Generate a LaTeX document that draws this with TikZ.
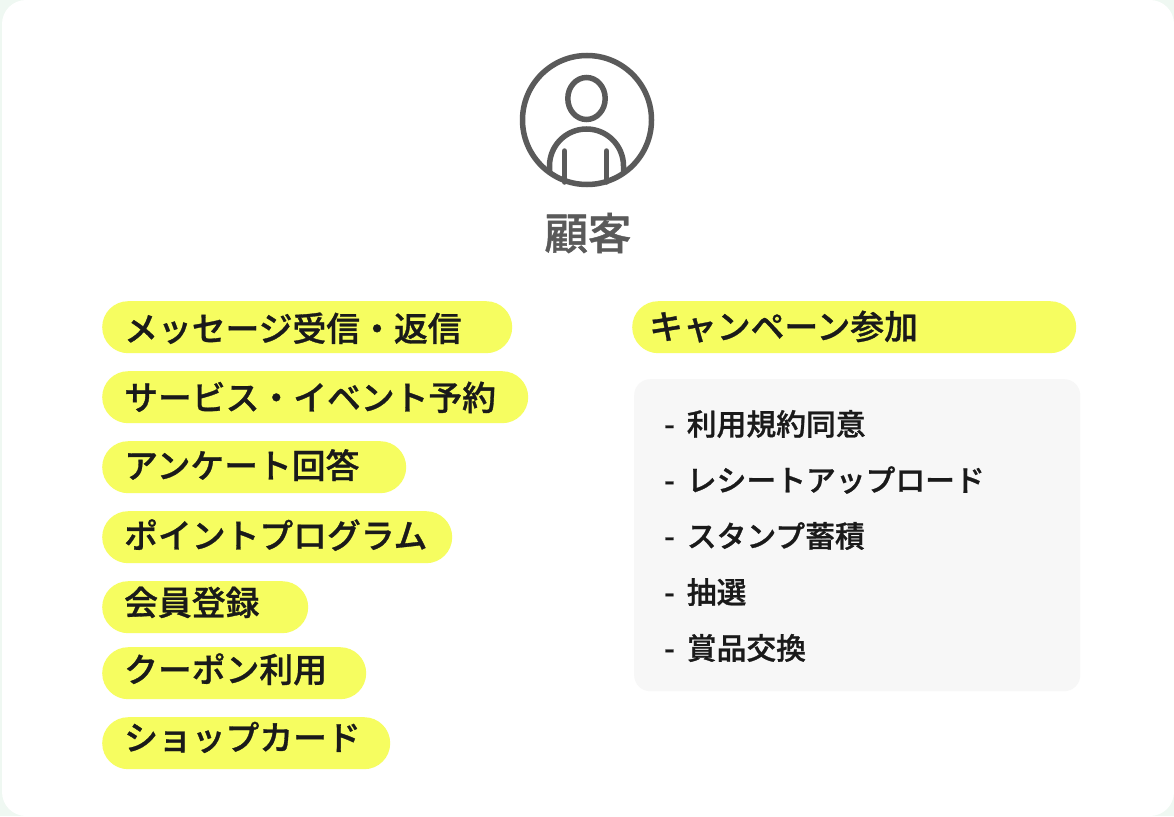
\documentclass[tikz,border=0pt]{standalone}
\usepackage{fontspec}
\setmainfont{Noto Sans CJK JP}
\newfontfamily\medfont[FakeBold=0.9]{Noto Sans CJK JP Medium}
\definecolor{pagebg}{HTML}{EFF8F2}
\definecolor{pillyellow}{HTML}{F6FD60}
\definecolor{panelgray}{HTML}{F7F7F7}
\definecolor{icongray}{HTML}{5A5A5A}
\definecolor{inkdark}{HTML}{1A1A1A}
\tikzset{
  pill/.style={anchor=north west, fill=pillyellow, rounded corners=26pt, minimum height=52pt, inner xsep=0pt, inner ysep=0pt, align=left, text=inkdark, font=\fontsize{33.8}{36}\medfont},
  listitem/.style={anchor=west, inner sep=0pt, text=inkdark, font=\fontsize{29.8}{32}\medfont},
  iconline/.style={draw=icongray, line width=5.5pt, line cap=round},
}
\newcommand{\pilltext}[3]{\hspace*{#1pt}\raisebox{#2pt}[32pt][8pt]{#3}}
\newcommand{\dashitem}[1]{-\hspace{12pt}#1}
\begin{document}
\begin{tikzpicture}[x=1pt,y=-1pt]
\useasboundingbox (0,0) rectangle (1174,816);
\fill[pagebg] (0,0) rectangle (1174,816);
\fill[white, rounded corners=24pt] (2,0) rectangle (1174,816);
% icon
\draw[iconline] (587,120) circle (64.5);
\draw[iconline] (586.5,98.5) ellipse (18.7 and 21);
\draw[iconline] (549.5,172) -- (549.5,166) arc[start angle=180,end angle=360,x radius=37,y radius=37] -- (623.5,172);
\draw[iconline] (564.5,151) -- (564.5,182);
\draw[iconline] (606.5,151) -- (606.5,182);
\node[anchor=center, inner sep=0pt, text=icongray, font=\fontsize{43.5}{46}\medfont] (title) at (588,233) {顧客};
% left pills
\node[pill, text width=410pt] (p1) at (102,301) {\pilltext{22}{-2}{メッセージ受信・返信}};
\node[pill, text width=426pt] (p2) at (102,371) {\pilltext{22}{-1}{サービス・イベント予約}};
\node[pill, text width=304pt] (p3) at (102,441) {\pilltext{22}{1}{アンケート回答}};
\node[pill, text width=350pt] (p4) at (102,511) {\pilltext{22}{1}{ポイントプログラム}};
\node[pill, text width=206pt] (p5) at (102,581) {\pilltext{22}{4}{会員登録}};
\node[pill, text width=264pt] (p6) at (102,647) {\pilltext{22}{3}{クーポン利用}};
\node[pill, text width=288pt] (p7) at (102,717) {\pilltext{22}{5}{ショップカード}};
% right
\node[pill, text width=444pt] (p8) at (632,301) {\pilltext{17}{0}{キャンペーン参加}};
\node[anchor=north west, fill=panelgray, rounded corners=16pt, minimum width=446pt, minimum height=312pt, inner sep=0pt] (panel) at (634,379) {};
\node[listitem] (l1) at (664,424) {\dashitem{利用規約同意}};
\node[listitem] (l2) at (664,480) {\dashitem{レシートアップロード}};
\node[listitem] (l3) at (664,536) {\dashitem{スタンプ蓄積}};
\node[listitem] (l4) at (664,592) {\dashitem{抽選}};
\node[listitem] (l5) at (664,648) {\dashitem{賞品交換}};
\end{tikzpicture}
\end{document}
